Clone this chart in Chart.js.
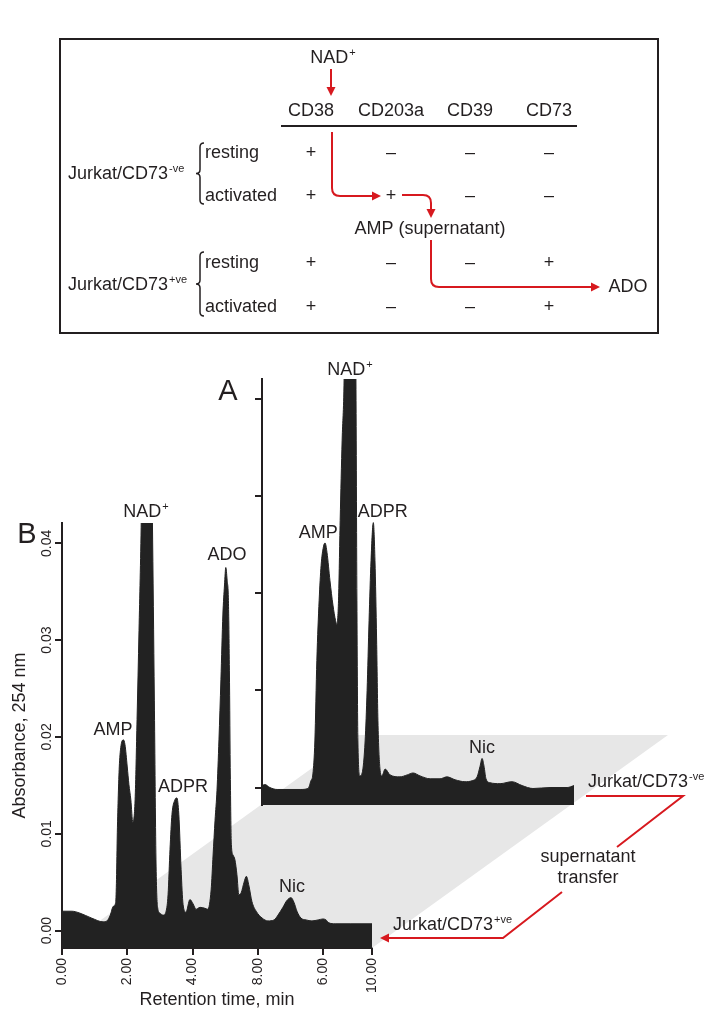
<!DOCTYPE html>
<html>
<head>
<meta charset="utf-8">
<script src="https://cdn.jsdelivr.net/npm/chart.js@4.4.1/dist/chart.umd.min.js"></script>
<style>
  body { margin: 0; background: #fff; }
  #wrap { position: relative; width: 719px; height: 1028px; }
  #wrap canvas { position: absolute; left: 0; top: 0; }
</style>
</head>
<body>
<div id="wrap">
  <canvas id="chartB" width="719" height="1028"></canvas>
  <canvas id="chartA" width="719" height="1028"></canvas>
</div>
<script>
// B: Jurkat/CD73+ve incubated with transferred supernatant (retention time in min, absorbance)
var timeB = [0, 0.30, 0.55, 0.90, 1.26, 1.38, 1.48, 1.57, 1.645, 1.67, 1.695, 1.725, 1.755, 1.80, 1.88, 1.93,
  2.00, 2.05, 2.11, 2.17, 2.24, 2.30, 2.36, 2.43, 2.50, 2.60, 2.70, 2.77, 2.83, 2.88, 2.93, 3.00,
  3.10, 3.19, 3.25, 3.31, 3.37, 3.46, 3.52, 3.58, 3.65, 3.71, 3.80, 3.92, 4.01, 4.11, 4.23, 4.38, 4.47,
  4.57, 4.63, 4.69, 4.75, 4.81, 4.87, 4.93, 4.98, 5.02, 5.06, 5.10, 5.13, 5.16, 5.19, 5.24, 5.30, 5.36, 5.42,
  5.49, 5.58, 5.65, 5.73, 5.82, 5.95, 6.13, 6.31, 6.50, 6.62, 6.77, 6.89, 7.02, 7.11, 7.20, 7.32, 7.48,
  7.66, 7.85, 8.00, 8.09, 8.18, 8.37, 8.83, 9.50];
var absB = [0.0020, 0.0020, 0.0018, 0.0013, 0.0009, 0.0010, 0.0016, 0.0025, 0.0029, 0.0053, 0.0101, 0.0140, 0.0169, 0.0189, 0.0197, 0.0192,
  0.0169, 0.0151, 0.0135, 0.0112, 0.0135, 0.0218, 0.0310, 0.0425, 0.0600, 0.0700, 0.0600, 0.0425, 0.0238, 0.0073, 0.0024, 0.0018,
  0.0016, 0.0020, 0.0037, 0.0084, 0.0120, 0.0135, 0.0137, 0.0120, 0.0063, 0.0027, 0.0019, 0.0032, 0.0028, 0.0022, 0.0024, 0.0023, 0.0022,
  0.0042, 0.0078, 0.0114, 0.0145, 0.0197, 0.0259, 0.0326, 0.0357, 0.0375, 0.0362, 0.0341, 0.0269, 0.0156, 0.0089, 0.0078, 0.0073, 0.0058, 0.0037,
  0.0039, 0.0050, 0.0056, 0.0046, 0.0030, 0.0020, 0.0013, 0.0010, 0.0011, 0.0016, 0.0024, 0.0031, 0.0034, 0.0029, 0.0020, 0.0013, 0.0011,
  0.0010, 0.0011, 0.0012, 0.0011, 0.0008, 0.0007, 0.0007, 0.0007];

// A: Jurkat/CD73-ve
var timeA = [0, 0.09, 0.24, 0.46, 1.16, 1.40, 1.49, 1.55, 1.61, 1.67, 1.74, 1.80, 1.87, 1.92, 1.98, 2.07, 2.16, 2.24, 2.28,
  2.33, 2.38, 2.44, 2.50, 2.56, 2.68, 2.80, 2.86, 2.89, 2.92, 2.98, 3.05, 3.14, 3.20, 3.26, 3.32, 3.39, 3.44, 3.49, 3.53,
  3.59, 3.65, 3.75, 3.90, 4.20, 4.42, 4.60, 4.81, 5.12, 5.42, 5.63, 5.88, 6.18, 6.39, 6.55, 6.64, 6.70, 6.76, 6.82, 6.94,
  7.25, 7.61, 7.92, 8.25, 8.77, 9.29, 9.50];
var absA = [0.0002, 0.0003, 0.0000, -0.0002, -0.0002, -0.0001, 0.0007, 0.0014, 0.0048, 0.0131, 0.0193, 0.0229, 0.0248, 0.0252, 0.0242, 0.0213, 0.0188, 0.0172, 0.0168,
  0.0193, 0.0275, 0.0358, 0.0421, 0.0600, 0.0700, 0.0600, 0.0421, 0.0193, 0.0048, 0.0012, 0.0015, 0.0048, 0.0100, 0.0172, 0.0234, 0.0273, 0.0234, 0.0152, 0.0069,
  0.0020, 0.0012, 0.0019, 0.0013, 0.0011, 0.0013, 0.0015, 0.0012, 0.0009, 0.0009, 0.0011, 0.0008, 0.0006, 0.0007, 0.0011, 0.0022, 0.0030, 0.0022, 0.0009, 0.0005,
  0.0004, 0.0006, 0.0002, -0.0001, 0.0000, 0.0000, 0.0002];

var yTickValues = [0, 0.01, 0.02, 0.03, 0.04];
var yTickLabels = ['0.00', '0.01', '0.02', '0.03', '0.04'];
var xTickValues = [0, 2, 4, 6, 8, 9.5];
var xTickLabels = ['0.00', '2.00', '4.00', '8.00', '6.00', '10.00'];

// scheme table
var enzymes = ['CD38', 'CD203a', 'CD39', 'CD73'];
var cellLines = ['Jurkat/CD73', 'Jurkat/CD73'];
var cellSup = ['-ve', '+ve'];
var states = ['resting', 'activated', 'resting', 'activated'];
var expression = [
  ['+', '–', '–', '–'],
  ['+', '+', '–', '–'],
  ['+', '–', '–', '+'],
  ['+', '–', '–', '+']
];

var INK = '#231f20';
var FILL = '#222222';
var RED = '#d7191f';
var PLANE = '#e7e7e7';
var FONT = '"Liberation Sans", Arial, Helvetica, sans-serif';

// peak labels, anchored in data space of each chart
var peaksB = [
  { name: 'AMP', t: 1.56, v: 0.0207 },
  { name: 'NAD', sup: '+', t: 2.57, v: 0.0432 },
  { name: 'ADPR', t: 3.71, v: 0.0148 },
  { name: 'ADO', t: 5.06, v: 0.0388 },
  { name: 'Nic', t: 7.05, v: 0.0045 }
];
var peaksA = [
  { name: 'AMP', t: 1.71, v: 0.0262 },
  { name: 'NAD', sup: '+', t: 2.68, v: 0.0430 },
  { name: 'ADPR', t: 3.68, v: 0.0284 },
  { name: 'Nic', t: 6.70, v: 0.0041 }
];

function supText(ctx, base, sup, x, y, size, align) {
  ctx.font = size + 'px ' + FONT;
  var wb = ctx.measureText(base).width;
  var ss = Math.round(size * 0.6);
  ctx.font = ss + 'px ' + FONT;
  var ws = sup ? ctx.measureText(sup).width + 1 : 0;
  var total = wb + ws;
  var x0 = align === 'center' ? x - total / 2 : (align === 'right' ? x - total : x);
  ctx.textAlign = 'left';
  ctx.textBaseline = 'middle';
  ctx.font = size + 'px ' + FONT;
  ctx.fillText(base, x0, y);
  if (sup) {
    ctx.font = ss + 'px ' + FONT;
    ctx.fillText(sup, x0 + wb + 1, y - size * 0.3);
  }
}

function arrowHead(ctx, x, y, dir) {
  var L = 9, W = 4.5;
  ctx.beginPath();
  ctx.moveTo(x, y);
  if (dir === 'down') { ctx.lineTo(x - W, y - L); ctx.lineTo(x + W, y - L); }
  if (dir === 'right') { ctx.lineTo(x - L, y - W); ctx.lineTo(x - L, y + W); }
  if (dir === 'left') { ctx.lineTo(x + L, y - W); ctx.lineTo(x + L, y + W); }
  ctx.closePath();
  ctx.fill();
}

function brace(ctx, x, y1, y2) {
  var ym = (y1 + y2) / 2, w = 4;
  ctx.beginPath();
  ctx.moveTo(x + w, y1);
  ctx.quadraticCurveTo(x, y1, x, y1 + w);
  ctx.lineTo(x, ym - w);
  ctx.quadraticCurveTo(x, ym, x - w, ym);
  ctx.quadraticCurveTo(x, ym, x, ym + w);
  ctx.lineTo(x, y2 - w);
  ctx.quadraticCurveTo(x, y2, x + w, y2);
  ctx.stroke();
}

function drawScheme(ctx) {
  ctx.save();
  ctx.strokeStyle = INK;
  ctx.lineWidth = 2;
  ctx.strokeRect(60, 39, 598, 294);

  ctx.fillStyle = INK;
  supText(ctx, 'NAD', '+', 333, 58, 18, 'center');

  var colX = [311, 391, 470, 549];
  var rowY = [153, 196, 263, 307];
  ctx.font = '18px ' + FONT;
  ctx.textAlign = 'center';
  ctx.textBaseline = 'middle';
  enzymes.forEach(function (e, i) { ctx.fillText(e, colX[i], 111); });

  ctx.beginPath();
  ctx.moveTo(281, 126);
  ctx.lineTo(577, 126);
  ctx.stroke();

  expression.forEach(function (row, r) {
    ctx.textAlign = 'left';
    ctx.fillText(states[r], 205, rowY[r]);
    ctx.textAlign = 'center';
    row.forEach(function (m, c) { ctx.fillText(m, colX[c], rowY[r]); });
  });

  cellLines.forEach(function (name, i) {
    supText(ctx, name, cellSup[i], 68, i === 0 ? 174 : 285, 18, 'left');
  });
  ctx.lineWidth = 1.5;
  brace(ctx, 200, 143, 204);
  brace(ctx, 200, 252, 316);

  ctx.font = '18px ' + FONT;
  ctx.textAlign = 'center';
  ctx.fillText('AMP (supernatant)', 430, 229);
  ctx.fillText('ADO', 628, 287);

  // red flow arrows
  ctx.strokeStyle = RED;
  ctx.fillStyle = RED;
  ctx.lineWidth = 2;
  ctx.beginPath();
  ctx.moveTo(331, 69); ctx.lineTo(331, 88);
  ctx.moveTo(332, 132); ctx.lineTo(332, 188); ctx.quadraticCurveTo(332, 196, 340, 196); ctx.lineTo(373, 196);
  ctx.moveTo(402, 195); ctx.lineTo(423, 195); ctx.quadraticCurveTo(431, 195, 431, 203); ctx.lineTo(431, 210);
  ctx.moveTo(431, 240); ctx.lineTo(431, 279); ctx.quadraticCurveTo(431, 287, 439, 287); ctx.lineTo(592, 287);
  ctx.stroke();
  arrowHead(ctx, 331, 96, 'down');
  arrowHead(ctx, 381, 196, 'right');
  arrowHead(ctx, 431, 218, 'down');
  arrowHead(ctx, 600, 287, 'right');
  ctx.restore();
}

function drawPeakLabels(chart, peaks) {
  var ctx = chart.ctx, xs = chart.scales.x, ys = chart.scales.y;
  ctx.save();
  ctx.fillStyle = INK;
  peaks.forEach(function (p) {
    supText(ctx, p.name, p.sup || '', xs.getPixelForValue(p.t), ys.getPixelForValue(p.v), 18, 'center');
  });
  ctx.restore();
}

var decorB = {
  id: 'decorB',
  beforeDatasetsDraw: function (chart) {
    // perspective floor linking the two traces
    var a = chart.chartArea, ctx = chart.ctx;
    ctx.save();
    ctx.fillStyle = PLANE;
    ctx.beginPath();
    ctx.moveTo(a.left, a.bottom);
    ctx.lineTo(a.right, a.bottom);
    ctx.lineTo(a.right + 296, a.bottom - 213);
    ctx.lineTo(a.left + 296, a.bottom - 213);
    ctx.closePath();
    ctx.fill();
    ctx.restore();
  },
  afterDraw: function (chart) {
    var ctx = chart.ctx, ys = chart.scales.y;
    drawScheme(ctx);
    drawPeakLabels(chart, peaksB);

    ctx.save();
    ctx.fillStyle = INK;
    ctx.font = '14px ' + FONT;
    ctx.textAlign = 'center';
    ctx.textBaseline = 'middle';
    yTickValues.forEach(function (v, i) {
      ctx.save();
      ctx.translate(ys.left + 47, ys.getPixelForValue(v));
      ctx.rotate(-Math.PI / 2);
      ctx.fillText(yTickLabels[i], 0, 0);
      ctx.restore();
    });

    ctx.font = '29px ' + FONT;
    ctx.fillText('A', 228, 392);
    ctx.fillText('B', 27, 535);

    // supernatant transfer annotation
    supText(ctx, 'Jurkat/CD73', '-ve', 588, 782, 18, 'left');
    supText(ctx, 'Jurkat/CD73', '+ve', 393, 925, 18, 'left');
    ctx.font = '18px ' + FONT;
    ctx.textAlign = 'center';
    ctx.fillText('supernatant', 588, 857);
    ctx.fillText('transfer', 588, 878);

    ctx.strokeStyle = RED;
    ctx.fillStyle = RED;
    ctx.lineWidth = 2;
    ctx.beginPath();
    ctx.moveTo(586, 796); ctx.lineTo(683, 796); ctx.lineTo(617, 847);
    ctx.moveTo(562, 892); ctx.lineTo(503, 938); ctx.lineTo(389, 938);
    ctx.stroke();
    arrowHead(ctx, 380, 938, 'left');
    ctx.restore();
  }
};

var decorA = {
  id: 'decorA',
  afterDraw: function (chart) { drawPeakLabels(chart, peaksA); }
};

function traceDataset(times, values) {
  return {
    data: times.map(function (t, i) { return { x: t, y: values[i] }; }),
    fill: 'start',
    backgroundColor: FILL,
    borderColor: FILL,
    borderWidth: 1,
    pointRadius: 0,
    cubicInterpolationMode: 'monotone'
  };
}

var axisGrid = { drawOnChartArea: false, drawTicks: true, tickLength: 7, color: INK, lineWidth: 2 };

new Chart(document.getElementById('chartB'), {
  type: 'line',
  data: { datasets: [traceDataset(timeB, absB)] },
  options: {
    responsive: false,
    animation: false,
    events: [],
    layout: { padding: { left: 0, top: 523, right: 347, bottom: 0 } },
    plugins: { legend: { display: false }, tooltip: { enabled: false } },
    scales: {
      x: {
        type: 'linear', min: 0, max: 9.5,
        afterBuildTicks: function (s) { s.ticks = xTickValues.map(function (v) { return { value: v }; }); },
        afterFit: function (s) { s.height = 80; },
        border: { display: true, color: INK, width: 2 },
        grid: axisGrid,
        ticks: {
          autoSkip: false, minRotation: 90, maxRotation: 90, padding: 3, color: INK,
          font: { family: FONT, size: 14 },
          callback: function (v, i) { return xTickLabels[i]; }
        },
        title: { display: true, text: 'Retention time, min', color: INK, font: { family: FONT, size: 18 }, padding: { top: 0, bottom: 17 } }
      },
      y: {
        type: 'linear', min: -0.0018, max: 0.0421,
        afterBuildTicks: function (s) { s.ticks = yTickValues.map(function (v) { return { value: v }; }); },
        afterFit: function (s) { s.width = 62; },
        border: { display: true, color: INK, width: 2 },
        grid: axisGrid,
        ticks: { display: false },
        title: { display: true, text: 'Absorbance, 254 nm', color: INK, font: { family: FONT, size: 18 }, padding: { top: 9, bottom: 0 } }
      }
    }
  },
  plugins: [decorB]
});

new Chart(document.getElementById('chartA'), {
  type: 'line',
  data: { datasets: [traceDataset(timeA, absA)] },
  options: {
    responsive: false,
    animation: false,
    events: [],
    layout: { padding: { left: 252, top: 379, right: 145, bottom: 223 } },
    plugins: { legend: { display: false }, tooltip: { enabled: false } },
    scales: {
      x: { type: 'linear', min: 0, max: 9.5, display: false },
      y: {
        type: 'linear', min: -0.0018, max: 0.0421,
        afterBuildTicks: function (s) { s.ticks = yTickValues.map(function (v) { return { value: v }; }); },
        afterFit: function (s) { s.width = 10; },
        border: { display: true, color: INK, width: 2 },
        grid: axisGrid,
        ticks: { display: false }
      }
    }
  },
  plugins: [decorA]
});
</script>
</body>
</html>
